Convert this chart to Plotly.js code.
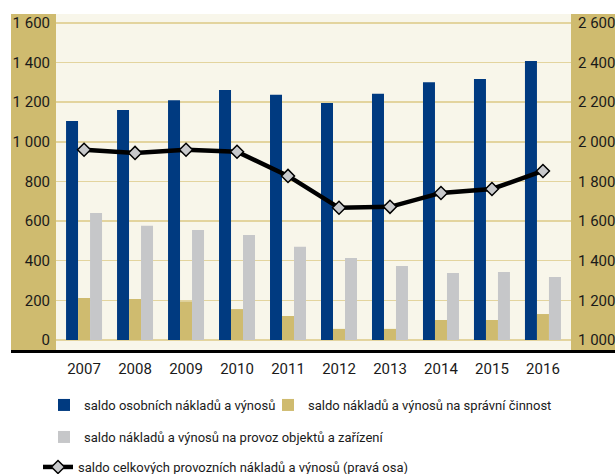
<!DOCTYPE html>
<html>
<head>
<meta charset="utf-8">
<script src="https://cdn.plot.ly/plotly-3.0.1.min.js"></script>
<style>
  html, body { margin: 0; padding: 0; background: #ffffff; }
  #chart { width: 615px; height: 474px; }
</style>
</head>
<body>
<div id="chart"></div>
<script>
    var years = ['2007', '2008', '2009', '2010', '2011', '2012', '2013', '2014', '2015', '2016'];
    var osobni = [1105, 1161, 1210, 1262, 1237, 1196, 1242, 1300, 1317, 1408];
    var spravni = [212, 207, 195, 156, 121, 56, 56, 101, 101, 131];
    var provoz = [641, 576, 555, 530, 470, 414, 374, 338, 343, 318];
    var celkove = [1960, 1944, 1960, 1950, 1828, 1667, 1672, 1742, 1762, 1853];

    var names = [
        'saldo osobních nákladů a výnosů',
        'saldo nákladů a výnosů na správní činnost',
        'saldo nákladů a výnosů na provoz objektů a zařízení',
        'saldo celkových provozních nákladů a výnosů (pravá osa)'
    ];

    var font = 'Roboto, "Liberation Sans", sans-serif';
    var plotW = 515;
    var plotH = 336;

    var data = [
        {
            type: 'bar', x: years, y: osobni, name: names[0],
            marker: {color: '#003a80'}, legend: 'legend',
            hoverinfo: 'y'
        },
        {
            type: 'bar', x: years, y: spravni, name: names[1],
            marker: {color: '#cfbb6f'}, legend: 'legend2',
            hoverinfo: 'y'
        },
        {
            type: 'bar', x: years, y: provoz, name: names[2],
            marker: {color: '#c6c7c9'}, legend: 'legend3',
            hoverinfo: 'y'
        },
        {
            type: 'scatter', mode: 'lines+markers', x: years, y: celkove, name: names[3],
            yaxis: 'y2', legend: 'legend4',
            line: {color: '#000000', width: 4.5},
            marker: {symbol: 'diamond', size: 10, color: '#c8c9cb', line: {color: '#000000', width: 1.5}},
            hoverinfo: 'y'
        }
    ];

    function px(x) { return (x - 56) / plotW; }

    var legendBase = {
        orientation: 'h', bgcolor: 'rgba(0,0,0,0)', borderwidth: 0,
        font: {family: font, size: 13, color: '#1a1a1a'},
        xanchor: 'left', yanchor: 'middle', yref: 'container'
    };
    function leg(x, y) {
        var l = Object.assign({}, legendBase);
        l.x = px(x);
        l.y = 1 - y / 474;
        return l;
    }

    var layout = {
        width: 615,
        height: 474,
        margin: {l: 56, r: 44, t: 14, b: 124},
        paper_bgcolor: '#ffffff',
        plot_bgcolor: '#f8f6ea',
        barmode: 'group',
        bargap: 0.294,
        bargroupgap: 0,
        separators: ', ',
        showlegend: true,
        font: {family: font, size: 15, color: '#1a1a1a'},
        xaxis: {
            type: 'category',
            range: [-0.55, 9.55],
            showgrid: false,
            zeroline: false,
            showline: false,
            ticks: 'outside', ticklen: 5, tickcolor: 'rgba(0,0,0,0)',
            tickfont: {family: font, size: 15, color: '#1a1a1a'}
        },
        yaxis: {
            range: [-50.5, 1645],
            dtick: 200, tick0: 0,
            separatethousands: true,
            showgrid: true, gridcolor: '#e3d49e', gridwidth: 1.5,
            zeroline: false, showline: false,
            ticks: 'outside', ticklen: 2, tickcolor: 'rgba(0,0,0,0)',
            tickfont: {family: font, size: 15, color: '#1a1a1a'}
        },
        yaxis2: {
            overlaying: 'y', side: 'right',
            range: [949.5, 2645],
            dtick: 200, tick0: 1000,
            separatethousands: true,
            showgrid: false, zeroline: false, showline: false,
            ticks: 'outside', ticklen: 3, tickcolor: 'rgba(0,0,0,0)',
            tickfont: {family: font, size: 15, color: '#1a1a1a'}
        },
        legend: leg(44, 405),
        legend2: leg(268, 405),
        legend3: leg(44, 437),
        legend4: leg(38, 467),
        shapes: [
            {type: 'rect', xref: 'paper', yref: 'paper', x0: px(11), x1: 0, y0: 0, y1: 1,
                fillcolor: '#cfbb6f', line: {width: 0}, layer: 'below'},
            {type: 'rect', xref: 'paper', yref: 'paper', x0: 1, x1: px(615), y0: 0, y1: 1,
                fillcolor: '#cfbb6f', line: {width: 0}, layer: 'below'},
            {type: 'line', xref: 'paper', yref: 'paper', x0: px(11), x1: px(615), y0: -1.5 / plotH, y1: -1.5 / plotH,
                line: {color: '#000000', width: 3}}
        ]
    };

    Plotly.newPlot('chart', data, layout, {displayModeBar: false, staticPlot: true});
</script>
</body>
</html>
